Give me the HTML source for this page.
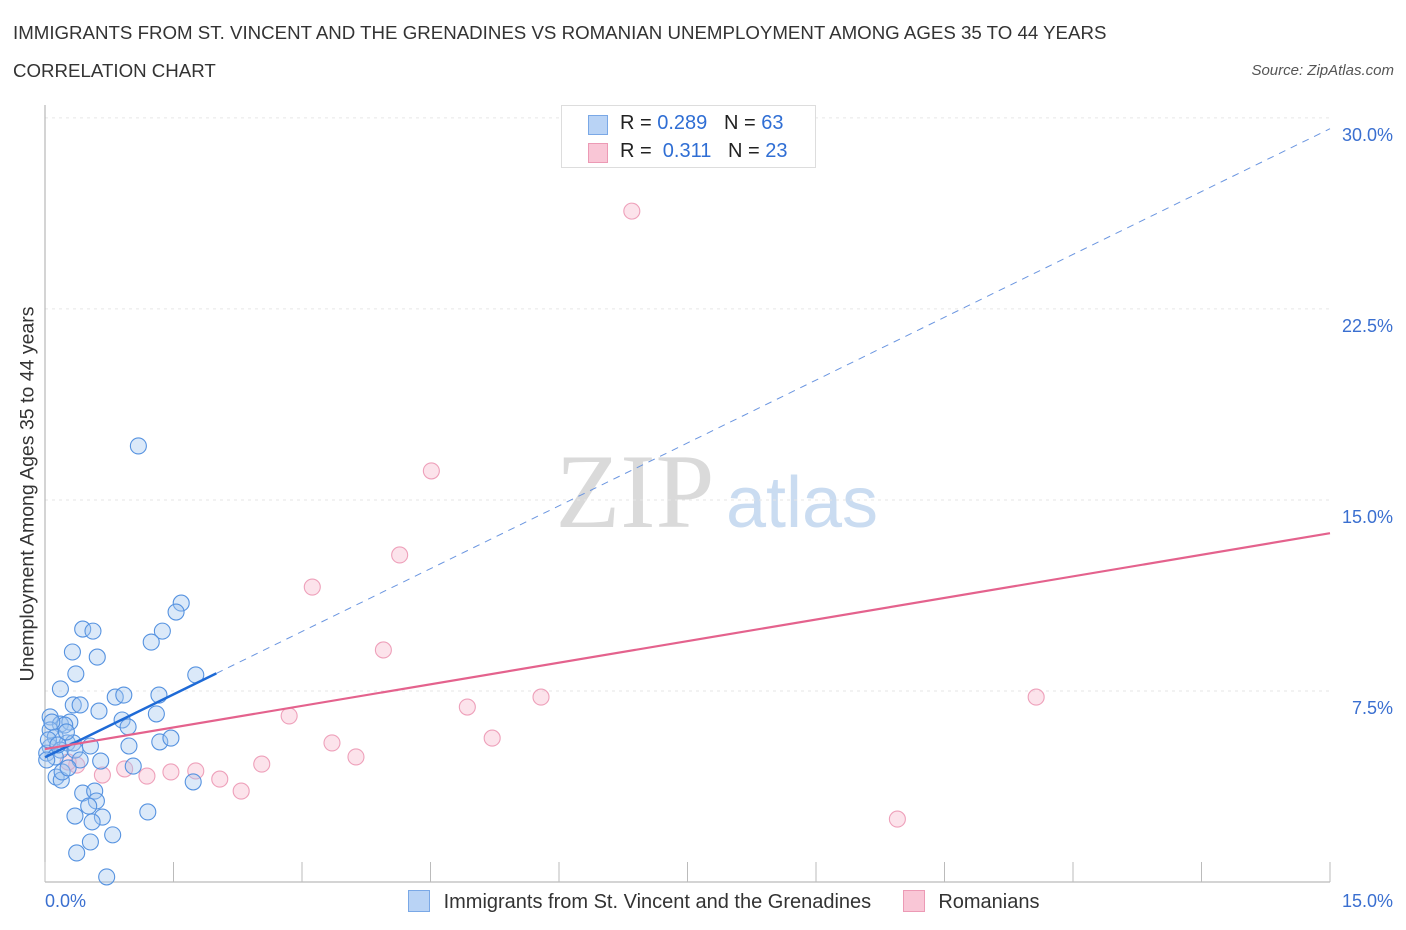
<!DOCTYPE html>
<html><head><meta charset="utf-8"><style>
body{margin:0;background:#fff;font-family:"Liberation Sans",sans-serif;}
#wrap{position:relative;width:1406px;height:930px;overflow:hidden;}
.t{position:absolute;white-space:nowrap;}
</style></head><body>
<div id="wrap">
<div class="t" style="left:13px;top:22px;font-size:18.7px;color:#333;">IMMIGRANTS FROM ST. VINCENT AND THE GRENADINES VS ROMANIAN UNEMPLOYMENT AMONG AGES 35 TO 44 YEARS</div>
<div class="t" style="left:13px;top:60px;font-size:18.7px;color:#333;">CORRELATION CHART</div>
<div class="t" style="right:12px;top:62px;font-size:15px;color:#555;font-style:italic;">Source: ZipAtlas.com</div>
<svg id="svg" width="1406" height="930" style="position:absolute;left:0;top:0"></svg>
</div>
<script>
const blueX=[1.09,1.59,1.53,1.37,1.24,0.44,0.56,0.32,0.61,0.36,1.76,0.18,0.82,0.92,1.33,0.33,0.41,0.63,1.30,0.90,0.97,0.98,1.34,1.47,0.65,1.03,1.73,0.44,0.58,0.60,0.51,0.35,0.67,0.55,1.20,0.79,0.53,0.37,0.72,0.06,0.18,0.29,0.23,0.06,0.12,0.26,0.33,0.53,0.06,0.18,0.02,0.12,0.35,0.41,0.13,0.19,0.02,0.20,0.04,0.08,0.15,0.25,0.27];
const blueY=[17.12,10.95,10.60,9.85,9.42,9.93,9.85,9.03,8.83,8.17,8.13,7.58,7.26,7.34,7.34,6.95,6.95,6.71,6.60,6.36,6.09,5.34,5.50,5.65,4.75,4.55,3.93,3.49,3.57,3.18,2.98,2.59,2.55,2.36,2.75,1.85,1.57,1.14,0.20,6.48,6.20,6.28,6.16,5.97,5.69,5.46,5.46,5.34,5.30,5.18,5.06,4.91,5.18,4.79,4.12,4.00,4.79,4.32,5.58,6.28,5.38,5.89,4.48];
const pinkX=[6.85,4.51,4.14,3.12,3.95,2.85,5.79,4.93,11.57,3.35,5.22,3.63,2.53,9.95,2.29,2.04,1.76,1.19,1.47,0.93,0.67,0.37,0.27];
const pinkY=[26.34,16.14,12.84,11.58,9.11,6.52,7.26,6.87,7.26,5.46,5.65,4.91,4.63,2.47,3.57,4.04,4.36,4.16,4.32,4.44,4.20,4.59,4.71];
const blueTrend=[4.9,1.645]; // intercept, slope
const blueSolidEnd=[2.0];
const pinkTrend=[5.22,0.565];
const yTicks=[7.5,15,22.5,30];
const yTickLabels=["7.5%","15.0%","22.5%","30.0%"];
const xTicks=[0,1.5,3,4.5,6,7.5,9,10.5,12,13.5,15];

const X=v=>45+v/15*1285, Y=v=>882-v*25.47;
const svg=document.getElementById('svg');const NS='http://www.w3.org/2000/svg';
function mk(tag,a){const e=document.createElementNS(NS,tag);for(const k in a)e.setAttribute(k,a[k]);svg.appendChild(e);return e;}
let w1=mk('text',{x:635,y:527,'font-size':106,'font-family':'Liberation Serif, serif',fill:'#dadada','text-anchor':'middle'});w1.textContent='ZIP';


let w2=mk('text',{x:802,y:527,'font-size':72,'font-family':'Liberation Sans, sans-serif',fill:'#cadcf1','text-anchor':'middle'});w2.textContent='atlas';


yTicks.forEach((t,i)=>{
 const g=mk('line',{x1:45,x2:1330,y1:Y(t),y2:Y(t),stroke:'#e6e6e6','stroke-dasharray':'3,4'});
 
 
 const l=mk('text',{x:1393,y:Y(t)+23,'font-size':18,fill:'#3a6fd0','text-anchor':'end','font-family':'Liberation Sans, sans-serif'});l.textContent=yTickLabels[i];
 
 
});
let ax=mk('line',{x1:45,x2:45,y1:105,y2:882,stroke:'#aaa'});


let bx=mk('line',{x1:45,x2:1330,y1:882,y2:882,stroke:'#aaa'});


xTicks.forEach(t=>{const e=mk('line',{x1:X(t),x2:X(t),y1:862,y2:882,stroke:'#bbb'});
 
 });
pinkX.forEach((x,i)=>{const c=mk('circle',{cx:X(x),cy:Y(pinkY[i]),r:8,fill:'rgba(248,185,205,0.4)',stroke:'#eea0ba','stroke-width':1.1});
 
 });
blueX.forEach((x,i)=>{const c=mk('circle',{cx:X(x),cy:Y(blueY[i]),r:8,fill:'rgba(160,196,240,0.38)',stroke:'#5592e0','stroke-width':1.1});
 
 });
const bf=x=>blueTrend[0]+blueTrend[1]*x, pf=x=>pinkTrend[0]+pinkTrend[1]*x;
let bd=mk('line',{x1:X(blueSolidEnd[0]),y1:Y(bf(blueSolidEnd[0])),x2:X(15),y2:Y(bf(15)),stroke:'#6a95e0','stroke-width':1,'stroke-dasharray':'7,6'});


let bs=mk('line',{x1:X(0),y1:Y(bf(0)),x2:X(blueSolidEnd[0]),y2:Y(bf(blueSolidEnd[0])),stroke:'#1e6ad6','stroke-width':2.5});


let ps=mk('line',{x1:X(0),y1:Y(pf(0)),x2:X(15),y2:Y(pf(15)),stroke:'#e4628d','stroke-width':2.2});


</script>
<div class="t" style="left:28px;top:494px;font-size:19.5px;color:#333;transform:translate(-50%,-50%) rotate(-90deg);">Unemployment Among Ages 35 to 44 years</div>
<div class="t" style="left:45px;top:891px;font-size:18px;color:#3a6fd0;">0.0%</div>
<div class="t" style="right:13px;top:891px;font-size:18px;color:#3a6fd0;">15.0%</div>
<div style="position:absolute;left:561px;top:105px;width:253px;height:61px;border:1px solid #ddd;background:#fff;font-size:20px;">
 <div style="position:absolute;left:26px;top:9px;width:18px;height:18px;background:#b9d3f5;border:1px solid #7aa8e6"></div>
 <div class="t" style="left:58px;top:6px;color:#222">R = <span style="color:#2f6ed4">0.289</span>&nbsp;&nbsp;&nbsp;N = <span style="color:#2f6ed4">63</span></div>
 <div style="position:absolute;left:26px;top:37px;width:18px;height:18px;background:#f9c6d6;border:1px solid #ec9ab5"></div>
 <div class="t" style="left:58px;top:34px;color:#222">R = &nbsp;<span style="color:#2f6ed4">0.311</span>&nbsp;&nbsp;&nbsp;N = <span style="color:#2f6ed4">23</span></div>
</div>
<div style="position:absolute;left:408px;top:890px;font-size:20px;color:#333;">
 <span style="display:inline-block;width:20px;height:20px;background:#b9d3f5;border:1px solid #7aa8e6;vertical-align:-4px"></span>
 <span style="margin-left:8px">Immigrants from St. Vincent and the Grenadines</span>
 <span style="display:inline-block;width:20px;height:20px;background:#f9c6d6;border:1px solid #ec9ab5;vertical-align:-4px;margin-left:26px"></span>
 <span style="margin-left:8px">Romanians</span>
</div>
</body></html>
